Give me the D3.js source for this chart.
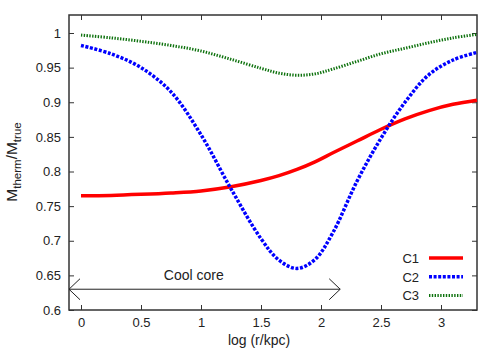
<!DOCTYPE html>
<html>
<head>
<meta charset="utf-8">
<script src="https://cdn.jsdelivr.net/npm/d3@7"></script>
<style>
  body { margin: 0; background: #fff; }
  text { font-family: "Liberation Sans", Arial, sans-serif; }
</style>
</head>
<body>
<script>
var xValues = [0, 0.25, 0.5, 0.75, 1, 1.25, 1.5, 1.65, 1.8, 1.95, 2.1, 2.3, 2.5, 2.7, 2.9, 3.1, 3.3];
var c1 = [0.765, 0.7655, 0.767, 0.769, 0.772, 0.778, 0.787, 0.794, 0.803, 0.814, 0.827, 0.844, 0.861, 0.876, 0.888, 0.897, 0.903];
var c2 = [0.982, 0.970, 0.950, 0.915, 0.853, 0.775, 0.703, 0.672, 0.660, 0.673, 0.712, 0.786, 0.848, 0.900, 0.940, 0.961, 0.972];
var c3 = [0.997, 0.993, 0.988, 0.982, 0.974, 0.962, 0.949, 0.942, 0.939, 0.941, 0.948, 0.959, 0.970, 0.978, 0.986, 0.993, 0.998];
var seriesNames = ["C1", "C2", "C3"];
var xTicks = [0, 0.5, 1, 1.5, 2, 2.5, 3];
var yTicks = [0.6, 0.65, 0.7, 0.75, 0.8, 0.85, 0.9, 0.95, 1];
var coolCore = [-0.1, 2.16, 0.63];

var margin = {top: 15, right: 23, bottom: 40, left: 69};
var width = 500 - margin.left - margin.right;
var height = 350 - margin.top - margin.bottom;

var xScale = d3.scaleLinear().domain([-0.1, 3.3]).range([0, width]);
var yScale = d3.scaleLinear().domain([0.6, 1.026]).range([height, 0]);

var svg = d3.select("body")
  .append("svg")
  .attr("width", 500)
  .attr("height", 350);

var g = svg.append("g")
  .attr("transform", "translate(" + margin.left + "," + margin.top + ")");

function fmt(d) { return String(d); }

// axes with mirrored inward ticks
var axisColor = "#333";
function styleAxis(sel) {
  sel.select(".domain").remove();
  sel.selectAll("line").attr("stroke", axisColor);
  sel.selectAll("text").attr("fill", "#222").style("font-size", "13px");
}

g.append("g")
  .attr("transform", "translate(0," + height + ")")
  .call(d3.axisBottom(xScale).tickValues(xTicks).tickSize(-5).tickPadding(8).tickFormat(fmt))
  .call(styleAxis);
g.append("g")
  .call(d3.axisTop(xScale).tickValues(xTicks).tickSize(-5).tickFormat(""))
  .call(styleAxis);
g.append("g")
  .call(d3.axisLeft(yScale).tickValues(yTicks).tickSize(-5).tickPadding(8).tickFormat(fmt))
  .call(styleAxis);
g.append("g")
  .attr("transform", "translate(" + width + ",0)")
  .call(d3.axisRight(yScale).tickValues(yTicks).tickSize(-5).tickFormat(""))
  .call(styleAxis);

g.append("rect")
  .attr("width", width)
  .attr("height", height)
  .attr("fill", "none")
  .attr("stroke", axisColor)
  .attr("stroke-width", 1.5);

var styles = [
  {color: "#ff0000", width: 3.5, dash: null},
  {color: "#0000ff", width: 3.5, dash: "3,1.6"},
  {color: "#0e720e", width: 3, dash: "1.4,1.4"}
];

var line = d3.line()
  .x(function(d) { return xScale(d[0]); })
  .y(function(d) { return yScale(d[1]); })
  .curve(d3.curveCatmullRom);

[c1, c2, c3].forEach(function(vals, i) {
  var pts = xValues.map(function(x, j) { return [x, vals[j]]; });
  g.append("path")
    .datum(pts)
    .attr("d", line)
    .attr("fill", "none")
    .attr("stroke", styles[i].color)
    .attr("stroke-width", styles[i].width)
    .attr("stroke-dasharray", styles[i].dash);
});

// cool core arrow
var ax0 = xScale(coolCore[0]), ax1 = xScale(coolCore[1]), ay = yScale(coolCore[2]);
var arrow = g.append("g").attr("stroke", "#222").attr("stroke-width", 1).attr("fill", "none");
arrow.append("line").attr("x1", ax0).attr("x2", ax1).attr("y1", ay).attr("y2", ay);
arrow.append("path").attr("d", "M" + (ax0 + 11) + "," + (ay - 10.5) + "L" + ax0 + "," + ay + "L" + (ax0 + 11) + "," + (ay + 10.5));
arrow.append("path").attr("d", "M" + (ax1 - 11) + "," + (ay - 10.5) + "L" + ax1 + "," + ay + "L" + (ax1 - 11) + "," + (ay + 10.5));
g.append("text")
  .attr("x", xScale(0.94))
  .attr("y", ay - 9)
  .attr("text-anchor", "middle")
  .attr("fill", "#222")
  .style("font-size", "14px")
  .text("Cool core");

// legend
var legend = g.append("g").attr("transform", "translate(" + (width - 58) + "," + (height - 52) + ")");
seriesNames.forEach(function(name, i) {
  var row = legend.append("g").attr("transform", "translate(0," + (i * 18.7) + ")");
  row.append("text")
    .attr("x", 0)
    .attr("y", 5)
    .attr("text-anchor", "end")
    .attr("fill", "#222")
    .style("font-size", "13px")
    .text(name);
  row.append("line")
    .attr("x1", 10).attr("x2", 44)
    .attr("stroke", styles[i].color)
    .attr("stroke-width", styles[i].width)
    .attr("stroke-dasharray", styles[i].dash);
});

// axis labels
svg.append("text")
  .attr("x", 259)
  .attr("y", 345)
  .attr("text-anchor", "middle")
  .attr("fill", "#222")
  .style("font-size", "14px")
  .text("log (r/kpc)");

var yl = svg.append("text")
  .attr("transform", "translate(17,162) rotate(-90)")
  .attr("text-anchor", "middle")
  .attr("fill", "#222")
  .style("font-size", "15.5px");
yl.append("tspan").text("M");
yl.append("tspan").attr("dy", 4).style("font-size", "11.5px").text("therm");
yl.append("tspan").attr("dy", -4).text("/M");
yl.append("tspan").attr("dy", 4).style("font-size", "11.5px").text("true");
</script>
</body>
</html>
